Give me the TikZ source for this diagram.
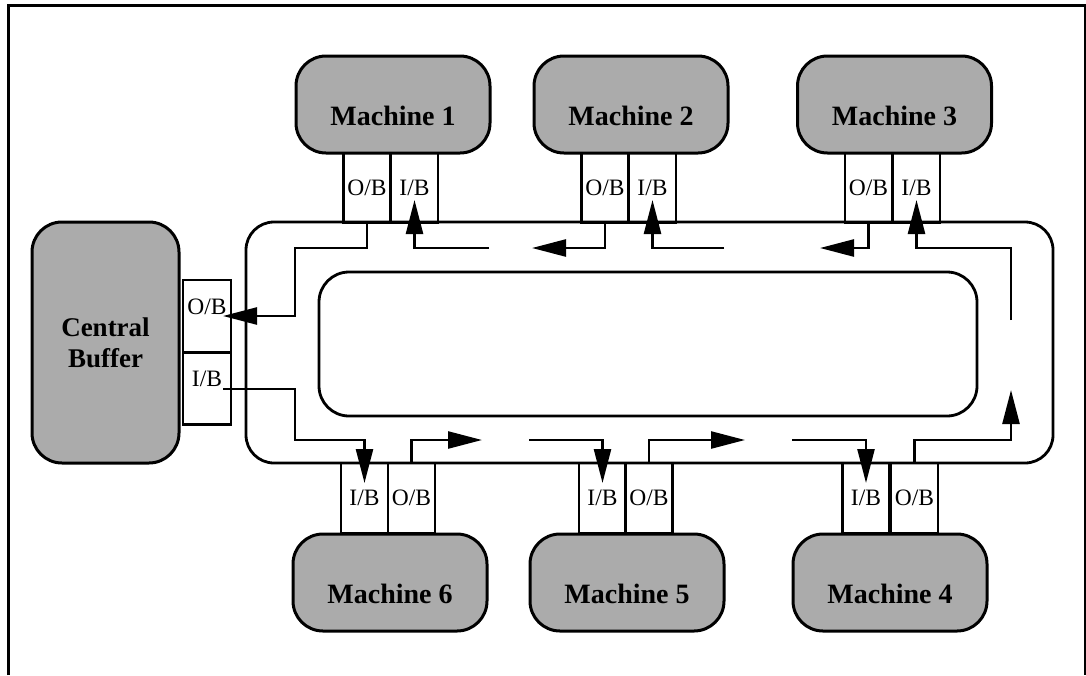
\documentclass[tikz,border=0pt]{standalone}
\usepackage{fontspec}
\setmainfont{Liberation Serif}
\usetikzlibrary{arrows.meta}
\begin{document}
\begin{tikzpicture}[x=1pt,y=-1pt,
  shade box/.style={draw, line width=3pt, fill=black!33, inner sep=0pt},
  mach/.style={shade box, rounded corners=30pt,
    minimum width=194pt, minimum height=97pt,
    font=\fontsize{28}{32}\selectfont\bfseries, text height=42pt, text depth=0pt},
  buf/.style={draw, line width=2.4pt, minimum width=47pt, minimum height=70pt,
    inner sep=0pt, font=\fontsize{23.5}{26}\selectfont},
  cbuf/.style={buf, minimum width=48pt, minimum height=72pt, text height=16pt, text depth=20pt},
  ring/.style={draw, line width=2.8pt, inner sep=0pt},
  flow/.style={line width=2.5pt},
  arr/.style={flow, -{Triangle[length=34pt,width=17pt]}}]
\useasboundingbox (0,0) rectangle (1086,675);
% frame
\draw[line width=3pt] (8,675) -- (8,5) -- (1085,5) -- (1085,675);

% track
\node[ring, rounded corners=28pt, minimum width=807pt, minimum height=241pt] (track) at (649.5,342.5) {};
\node[ring, rounded corners=30pt, minimum width=658pt, minimum height=144pt] (inner) at (648,344) {};

% machines
\node[mach] (m1) at (393,104.5) {Machine 1};
\node[mach] (m2) at (631,104.5) {Machine 2};
\node[mach] (m3) at (894.5,104.5) {Machine 3};
\node[mach] (m6) at (390,582.5) {Machine 6};
\node[mach] (m5) at (627,582.5) {Machine 5};
\node[mach] (m4) at (890,582.5) {Machine 4};

% central buffer
\node[shade box, minimum width=147pt, minimum height=241pt, rounded corners=30pt,
  align=center, font=\fontsize{27}{31}\selectfont\bfseries] (cb) at (105.5,342.5) {Central\\Buffer};
\node[cbuf] (cob) at (207,316) {O/B};
\node[cbuf] (cib) at (207,388.5) {I/B};

% machine buffers
\node[buf] (m1ob) at (367,188) {O/B};
\node[buf] (m1ib) at (414.5,188) {I/B};
\node[buf] (m2ob) at (605,188) {O/B};
\node[buf] (m2ib) at (652.5,188) {I/B};
\node[buf] (m3ob) at (868.5,188) {O/B};
\node[buf] (m3ib) at (916.5,188) {I/B};
\node[buf] (m6ib) at (364.5,498) {I/B};
\node[buf] (m6ob) at (411.5,498) {O/B};
\node[buf] (m5ib) at (602.5,498) {I/B};
\node[buf] (m5ob) at (649,498) {O/B};
\node[buf] (m4ib) at (866,498) {I/B};
\node[buf] (m4ob) at (914.5,498) {O/B};

% lanes
\coordinate (TL) at (0,248);
\coordinate (BL) at (0,440);
\coordinate (TT) at (0,200);
\coordinate (BT) at (0,483);

\coordinate (r1) at (1011,320);
\coordinate (a3) at (820,248);
\coordinate (s2) at (724,248);
\coordinate (a2) at (532,248);
\coordinate (s1) at (489,248);
\coordinate (c1) at (295,248);
\coordinate (tcob) at (223,316);
\coordinate (scib) at (223,389);
\coordinate (c2) at (295,440);
\coordinate (a6) at (482,440);
\coordinate (s5) at (529,440);
\coordinate (a5) at (745,440);
\coordinate (s4) at (792,440);
\coordinate (r2) at (1011,440);
\coordinate (r3) at (1011,390);

% flows
\draw[arr] (r1) |- (m3ib |- TL) -- (m3ib |- TT);
\draw[arr] (m3ob.south) |- (a3);
\draw[arr] (s2) -| (m2ib |- TT);
\draw[arr] (m2ob.south) |- (a2);
\draw[arr] (s1) -| (m1ib |- TT);
\draw[arr] (m1ob.south) |- (c1) |- (tcob);
\draw[arr] (scib) -| (c2) -| (m6ib |- BT);
\draw[arr] (m6ob.north) |- (a6);
\draw[arr] (s5) -| (m5ib |- BT);
\draw[arr] (m5ob.north) |- (a5);
\draw[arr] (s4) -| (m4ib |- BT);
\draw[arr] (m4ob.north) |- (r2) -- (r3);
\end{tikzpicture}
\end{document}
